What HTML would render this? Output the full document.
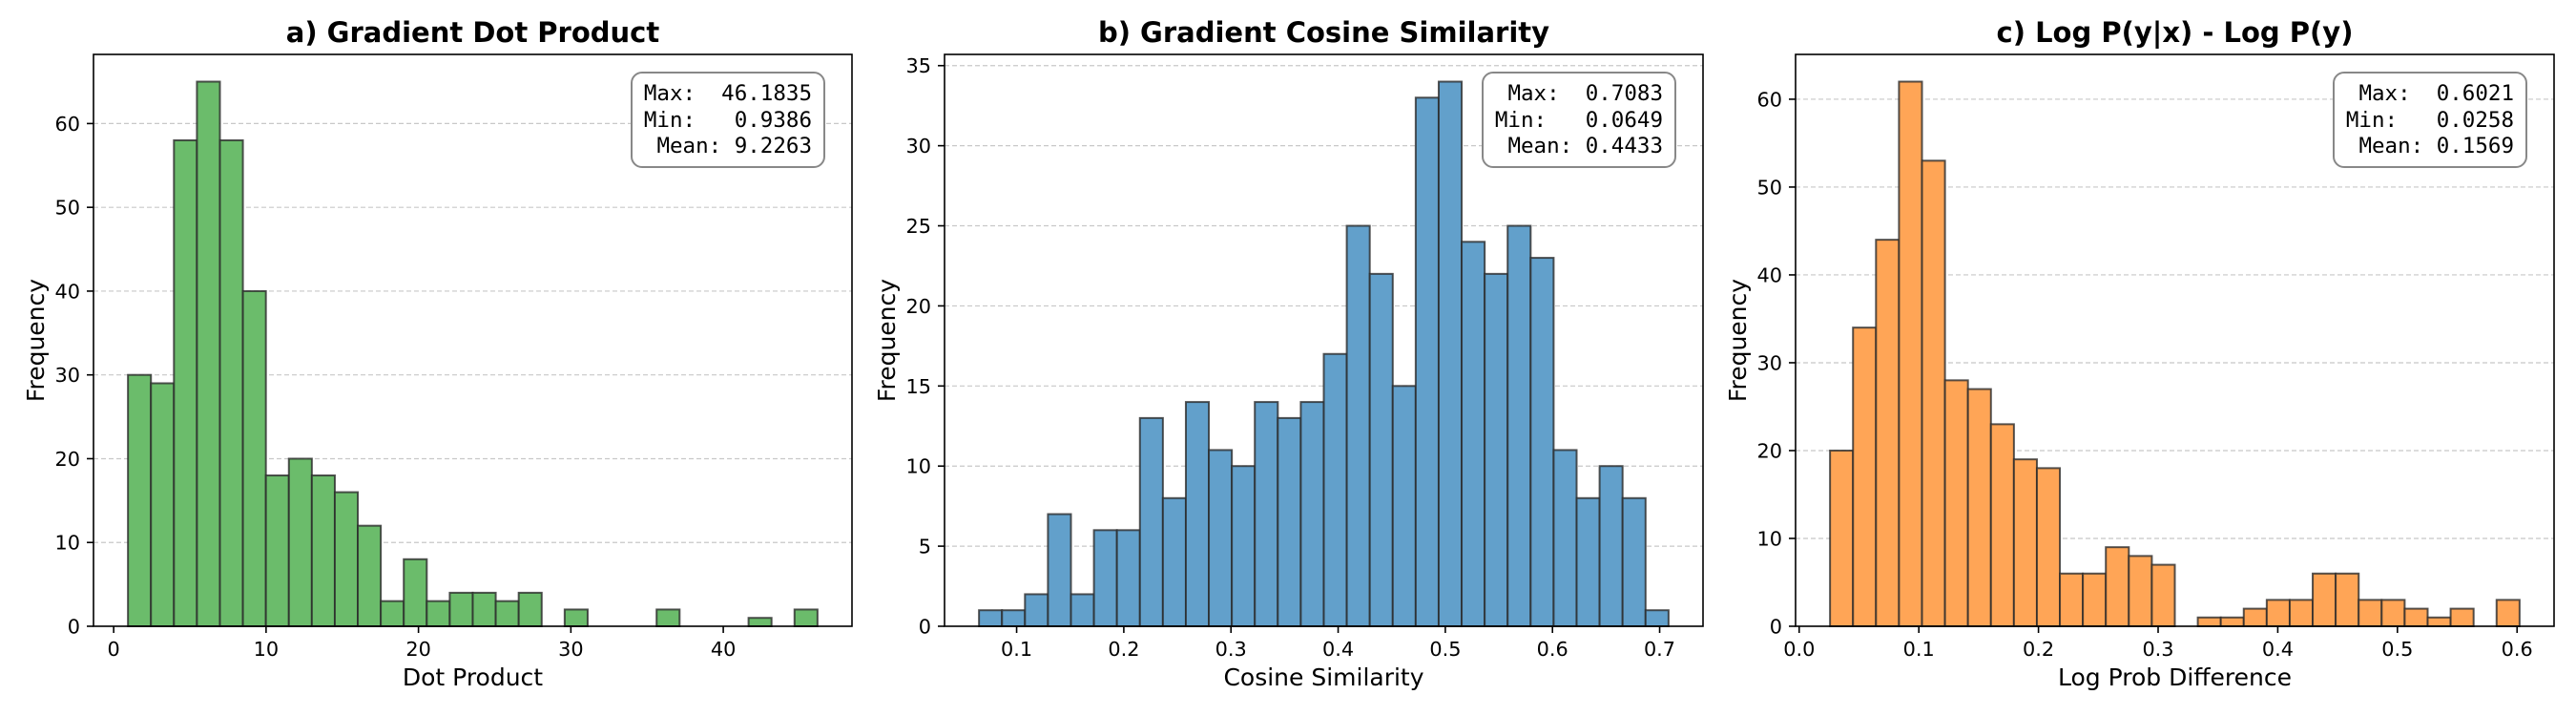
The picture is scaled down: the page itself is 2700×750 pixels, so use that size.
<!DOCTYPE html>
<html><head><meta charset="utf-8"><style>
html,body{margin:0;padding:0;background:#fff;}
svg{display:block;font-family:"DejaVu Sans","Liberation Sans",sans-serif;}
.tick{font-size:20.8px;fill:#000;}
.lab{font-size:25px;fill:#000;}
.ttl{font-size:29px;font-weight:bold;fill:#000;}
.st{font-family:"DejaVu Sans Mono","Liberation Mono",monospace;font-size:22.5px;fill:#000;white-space:pre;}
.grid{stroke:#b0b0b0;stroke-opacity:.7;stroke-width:1.2;stroke-dasharray:5,3;}
</style></head><body>
<svg id="s" width="2700" height="750" viewBox="0 0 2700 750" xmlns="http://www.w3.org/2000/svg">
<g id="bars"></g>
<!-- Panel a -->
<g>
<text class="ttl" x="495.5" y="44" text-anchor="middle">a) Gradient Dot Product</text>
<text class="lab" x="495.5" y="718" text-anchor="middle">Dot Product</text>
<text class="lab" transform="translate(46,356.5) rotate(-90)" text-anchor="middle">Frequency</text>
<g class="tick" text-anchor="middle">
<text x="119.1" y="687">0</text><text x="278.9" y="687">10</text><text x="438.6" y="687">20</text><text x="598.4" y="687">30</text><text x="758.1" y="687">40</text>
</g>
<g class="tick" text-anchor="end">
<text x="84" y="663.5">0</text><text x="84" y="575.7">10</text><text x="84" y="488">20</text><text x="84" y="400.2">30</text><text x="84" y="312.4">40</text><text x="84" y="224.7">50</text><text x="84" y="136.9">60</text>
</g>
</g>
<!-- Panel b -->
<g>
<text class="ttl" x="1387.5" y="44" text-anchor="middle">b) Gradient Cosine Similarity</text>
<text class="lab" x="1387.5" y="718" text-anchor="middle">Cosine Similarity</text>
<text class="lab" transform="translate(938,356.5) rotate(-90)" text-anchor="middle">Frequency</text>
<g class="tick" text-anchor="middle">
<text x="1065.6" y="687">0.1</text><text x="1177.9" y="687">0.2</text><text x="1290.2" y="687">0.3</text><text x="1402.6" y="687">0.4</text><text x="1514.9" y="687">0.5</text><text x="1627.2" y="687">0.6</text><text x="1739.5" y="687">0.7</text>
</g>
<g class="tick" text-anchor="end">
<text x="976" y="663.5">0</text><text x="976" y="579.6">5</text><text x="976" y="495.7">10</text><text x="976" y="411.8">15</text><text x="976" y="327.9">20</text><text x="976" y="244">25</text><text x="976" y="160.1">30</text><text x="976" y="76.2">35</text>
</g>
</g>
<!-- Panel c -->
<g>
<text class="ttl" x="2279.5" y="44" text-anchor="middle">c) Log P(y|x) - Log P(y)</text>
<text class="lab" x="2279.5" y="718" text-anchor="middle">Log Prob Difference</text>
<text class="lab" transform="translate(1830,356.5) rotate(-90)" text-anchor="middle">Frequency</text>
<g class="tick" text-anchor="middle">
<text x="1885.8" y="687">0.0</text><text x="2011.2" y="687">0.1</text><text x="2136.6" y="687">0.2</text><text x="2262" y="687">0.3</text><text x="2387.4" y="687">0.4</text><text x="2512.8" y="687">0.5</text><text x="2638.2" y="687">0.6</text>
</g>
<g class="tick" text-anchor="end">
<text x="1868" y="663.5">0</text><text x="1868" y="571.5">10</text><text x="1868" y="479.5">20</text><text x="1868" y="387.5">30</text><text x="1868" y="295.5">40</text><text x="1868" y="203.4">50</text><text x="1868" y="111.4">60</text>
</g>
</g>
<g id="boxes">
<rect x="662" y="76" width="202" height="99" rx="11" fill="#fff" stroke="#888" stroke-width="2"/>
<text class="st" x="851" y="105" text-anchor="end" xml:space="preserve">Max:  46.1835</text>
<text class="st" x="851" y="133" text-anchor="end" xml:space="preserve">Min:   0.9386</text>
<text class="st" x="851" y="160" text-anchor="end" xml:space="preserve">Mean: 9.2263</text>
<rect x="1554" y="76" width="202" height="99" rx="11" fill="#fff" stroke="#888" stroke-width="2"/>
<text class="st" x="1743" y="105" text-anchor="end" xml:space="preserve">Max:  0.7083</text>
<text class="st" x="1743" y="133" text-anchor="end" xml:space="preserve">Min:   0.0649</text>
<text class="st" x="1743" y="160" text-anchor="end" xml:space="preserve">Mean: 0.4433</text>
<rect x="2446" y="76" width="202" height="99" rx="11" fill="#fff" stroke="#888" stroke-width="2"/>
<text class="st" x="2635" y="105" text-anchor="end" xml:space="preserve">Max:  0.6021</text>
<text class="st" x="2635" y="133" text-anchor="end" xml:space="preserve">Min:   0.0258</text>
<text class="st" x="2635" y="160" text-anchor="end" xml:space="preserve">Mean: 0.1569</text>
</g>
</svg>
<script>
(function(){
var NS="http://www.w3.org/2000/svg";
var svg=document.getElementById('s'), g=document.getElementById('bars');
function el(n,a,p){var e=document.createElementNS(NS,n);for(var k in a)e.setAttribute(k,a[k]);(p||g).appendChild(e);return e;}
var P=[
 {x0:98,lo:-1.3236,span:49.7693,ymax:68.25,min:0.9386,w:1.50815,col:"#6bbc6b",
  yt:[0,10,20,30,40,50,60],xt:[0,10,20,30,40],
  c:[30,29,58,65,58,40,18,20,18,16,12,3,8,3,4,4,3,4,0,2,0,0,0,2,0,0,0,1,0,2]},
 {x0:990,lo:0.03273,span:0.70774,ymax:35.7,min:0.0649,w:0.021447,col:"#62a0cb",
  yt:[0,5,10,15,20,25,30,35],xt:[.1,.2,.3,.4,.5,.6,.7],
  c:[1,1,2,7,2,6,6,13,8,14,11,10,14,13,14,17,25,22,15,33,34,24,22,25,23,11,8,10,8,1]},
 {x0:1882,lo:-0.003015,span:0.63393,ymax:65.1,min:0.0258,w:0.01921,col:"#ffa556",
  yt:[0,10,20,30,40,50,60],xt:[0,.1,.2,.3,.4,.5,.6],
  c:[20,34,44,62,53,28,27,23,19,18,6,6,9,8,7,0,1,1,2,3,3,6,6,3,3,2,1,2,0,3]}
];
var W=795,T=57,B=656,H=B-T;
P.forEach(function(p){
 var sx=function(v){return p.x0+(v-p.lo)*W/p.span;};
 var sy=function(v){return B-v*H/p.ymax;};
 p.yt.forEach(function(v){
  if(v>0) el('line',{x1:p.x0,x2:p.x0+W,y1:sy(v),y2:sy(v),'class':'grid'});
  el('line',{x1:p.x0-7,x2:p.x0,y1:sy(v),y2:sy(v),stroke:'#000','stroke-width':1.6});
 });
 p.xt.forEach(function(v){el('line',{x1:sx(v),x2:sx(v),y1:B,y2:B+7,stroke:'#000','stroke-width':1.6});});
 p.c.forEach(function(c,i){
  if(c<=0)return;
  var a=sx(p.min+i*p.w),b=sx(p.min+(i+1)*p.w);
  el('rect',{x:a,y:sy(c),width:b-a,height:B-sy(c),fill:p.col,stroke:'#2b2b2b','stroke-opacity':.8,'stroke-width':2});
 });
 el('rect',{x:p.x0,y:T,width:W,height:H,fill:'none',stroke:'#000','stroke-width':1.6});
});
svg.appendChild(document.getElementById('boxes'));
})();
</script>
</body></html>
